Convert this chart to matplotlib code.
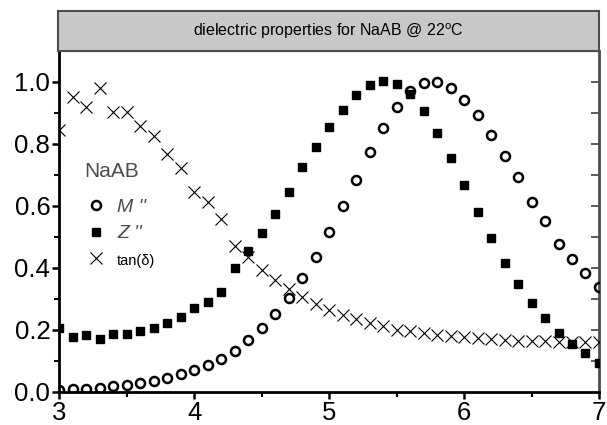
import numpy as np
import matplotlib
matplotlib.use("Agg")
import matplotlib.pyplot as plt
from matplotlib.lines import Line2D

plt.rcParams['font.family'] = ['Liberation Sans', 'DejaVu Sans']
plt.rcParams['mathtext.fontset'] = 'custom'
plt.rcParams['mathtext.rm'] = 'Liberation Sans'
plt.rcParams['mathtext.it'] = 'Liberation Sans:italic'

# log frequency grid
freq = [3.0, 3.1, 3.2, 3.3, 3.4, 3.5, 3.6, 3.7, 3.8, 3.9,
        4.0, 4.1, 4.2, 4.3, 4.4, 4.5, 4.6, 4.7, 4.8, 4.9,
        5.0, 5.1, 5.2, 5.3, 5.4, 5.5, 5.6, 5.7, 5.8, 5.9,
        6.0, 6.1, 6.2, 6.3, 6.4, 6.5, 6.6, 6.7, 6.8, 6.9, 7.0]

# normalised M''
m_norm = [0.006, 0.008, 0.010, 0.013, 0.017, 0.022, 0.028, 0.036, 0.045, 0.056,
          0.070, 0.086, 0.107, 0.132, 0.167, 0.204, 0.251, 0.303, 0.366, 0.436,
          0.515, 0.600, 0.685, 0.774, 0.852, 0.919, 0.971, 0.997, 0.999, 0.982,
          0.941, 0.893, 0.828, 0.760, 0.692, 0.611, 0.552, 0.476, 0.427, 0.382, 0.339]

# normalised Z''
z_norm = [0.205, 0.178, 0.183, 0.169, 0.186, 0.186, 0.196, 0.204, 0.223, 0.240,
          0.270, 0.290, 0.321, 0.398, 0.454, 0.513, 0.573, 0.645, 0.724, 0.790,
          0.853, 0.911, 0.957, 0.989, 1.002, 0.995, 0.960, 0.905, 0.836, 0.755,
          0.667, 0.579, 0.495, 0.416, 0.347, 0.287, 0.237, 0.190, 0.154, 0.124, 0.094]

# tan(delta)
tan_d = [0.846, 0.950, 0.919, 0.979, 0.903, 0.903, 0.857, 0.827, 0.767, 0.721,
         0.645, 0.613, 0.559, 0.471, 0.436, 0.393, 0.360, 0.331, 0.306, 0.282,
         0.264, 0.248, 0.235, 0.222, 0.211, 0.200, 0.195, 0.189, 0.183, 0.179,
         0.175, 0.172, 0.169, 0.167, 0.165, 0.164, 0.163, 0.162, 0.161, 0.160, 0.159]

title = "dielectric properties for NaAB @ 22$^{\\rm o}$C"
grey = '#4d4d4d'

fig = plt.figure(figsize=(6.07, 4.25), dpi=100)
ax = fig.add_axes([0.0977, 0.0784, 0.8891, 0.8016])

ax.plot(freq, tan_d, 'x', color='black', ms=9, mew=0.8)
ax.plot(freq, z_norm, 's', color='black', ms=6)
ax.plot(freq, m_norm, 'o', mfc='none', mec='black', ms=6.5, mew=1.8)

ax.set_xlim(3, 7)
ax.set_ylim(0, 1.1)
ax.set_xticks([3, 4, 5, 6, 7])
ax.set_xticks([3.5, 4.5, 5.5, 6.5], minor=True)
ax.set_yticks([0.0, 0.2, 0.4, 0.6, 0.8, 1.0])
ax.set_yticks([0.1, 0.3, 0.5, 0.7, 0.9], minor=True)
ax.set_yticklabels(['0.0', '0.2', '0.4', '0.6', '0.8', '1.0'])

for s in ['left', 'bottom']:
    ax.spines[s].set_linewidth(2)
    ax.spines[s].set_color('black')
ax.spines['top'].set_color(grey)
ax.spines['top'].set_linewidth(1.5)
ax.spines['right'].set_visible(False)

ax.tick_params(axis='both', which='major', direction='out', length=5,
               width=1.8, labelsize=18.5, pad=1.5)
ax.tick_params(axis='both', which='minor', direction='out', length=3.5, width=1.5)
ax.tick_params(top=False, right=False, which='both')

sec = ax.secondary_yaxis('right')
sec.set_yticks([0.1, 0.2, 0.3, 0.4, 0.5, 0.6, 0.7, 0.8, 0.9, 1.0])
sec.tick_params(direction='in', length=6, width=1.3, color=grey, labelright=False)
sec.spines['right'].set_color(grey)
sec.spines['right'].set_linewidth(2)

# title bar
tb = fig.add_axes([0.0960, 0.8800, 0.8908, 0.0941])
tb.set_facecolor('#c8c8c8')
tb.set_xticks([])
tb.set_yticks([])
for s in tb.spines.values():
    s.set_color(grey)
    s.set_linewidth(1.5)
tb.text(0.5, 0.5, title, ha='center', va='center', fontsize=11.5,
        transform=tb.transAxes)

# legend
ax.text(0.047, 0.645, 'NaAB', color=grey, fontsize=15, ha='left', va='center',
        transform=ax.transAxes)
handles = [
    Line2D([], [], ls='none', marker='o', mfc='none', mec='black', ms=6.5, mew=1.8),
    Line2D([], [], ls='none', marker='s', color='black', ms=6),
    Line2D([], [], ls='none', marker='x', color='black', ms=9, mew=0.8),
]
labels = ["M ''", "Z ''", "tan(\u03b4)"]
leg = ax.legend(handles, labels, frameon=False, loc='upper left',
                bbox_to_anchor=(0.035, 0.59), handlelength=1.0, handletextpad=0.6,
                labelspacing=0.45, borderaxespad=0, fontsize=14)
t_m, t_z, t_t = leg.get_texts()
for t in (t_m, t_z):
    t.set_style('italic')
    t.set_color(grey)
t_t.set_fontsize(10.5)

fig.savefig('out.png', dpi=100)
